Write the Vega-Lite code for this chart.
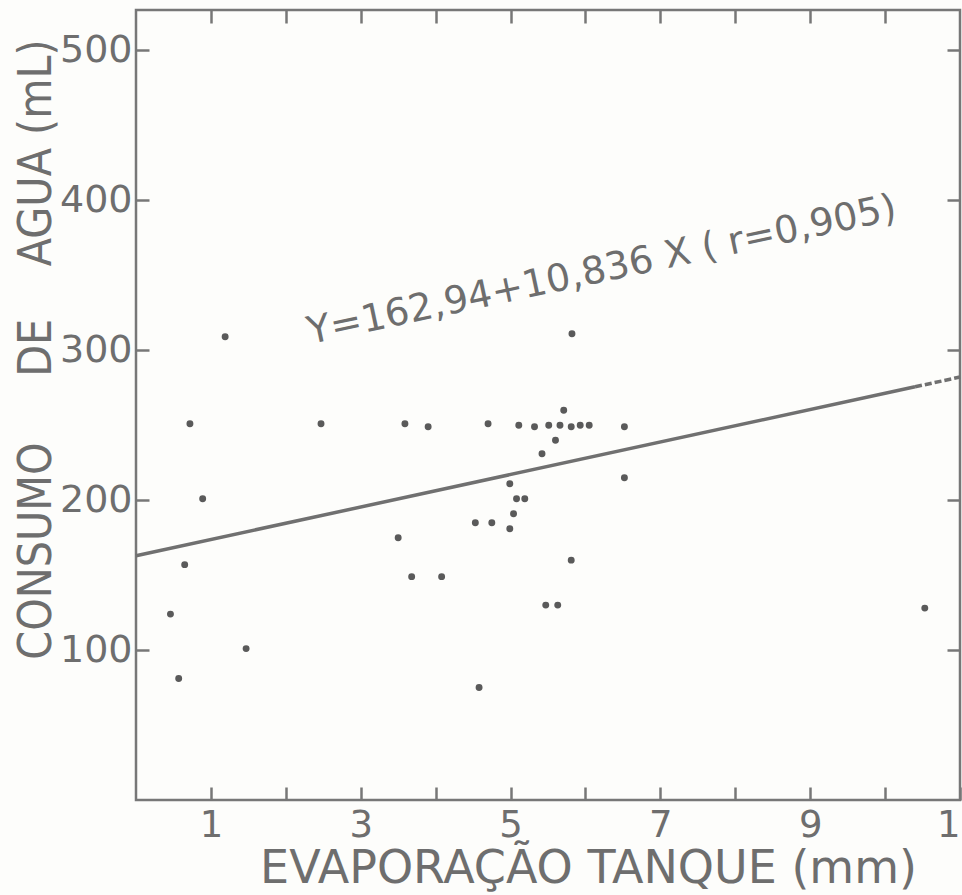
{
  "$schema": "https://vega.github.io/schema/vega-lite/v6.json",
  "width": 824,
  "height": 790,
  "autosize": {"type": "none"},
  "padding": {"left": 136, "top": 10, "right": 2, "bottom": 95},
  "background": "#fdfdfb",
  "config": {
    "view": {"stroke": "#777777", "strokeWidth": 2.5},
    "axis": {
      "grid": false,
      "domain": false,
      "tickColor": "#777777",
      "tickWidth": 2.5,
      "labelColor": "#6e6e6e",
      "titleColor": "#6e6e6e",
      "labelFont": "DejaVu Sans",
      "titleFont": "DejaVu Sans",
      "labelFontWeight": "normal",
      "titleFontWeight": "normal"
    }
  },
  "resolve": {"axis": {"x": "independent", "y": "independent"}},
  "layer": [
    {
      "data": {"values": [
        {"evap": 1.19, "consumo": 309},
        {"evap": 0.72, "consumo": 251},
        {"evap": 2.47, "consumo": 251},
        {"evap": 3.59, "consumo": 251},
        {"evap": 3.90, "consumo": 249},
        {"evap": 4.70, "consumo": 251},
        {"evap": 5.11, "consumo": 250},
        {"evap": 5.32, "consumo": 249},
        {"evap": 5.51, "consumo": 250},
        {"evap": 5.66, "consumo": 250},
        {"evap": 5.81, "consumo": 249},
        {"evap": 5.93, "consumo": 250},
        {"evap": 6.05, "consumo": 250},
        {"evap": 6.52, "consumo": 249},
        {"evap": 5.71, "consumo": 260},
        {"evap": 5.82, "consumo": 311},
        {"evap": 5.60, "consumo": 240},
        {"evap": 5.42, "consumo": 231},
        {"evap": 4.99, "consumo": 211},
        {"evap": 5.08, "consumo": 201},
        {"evap": 5.19, "consumo": 201},
        {"evap": 5.04, "consumo": 191},
        {"evap": 4.53, "consumo": 185},
        {"evap": 4.75, "consumo": 185},
        {"evap": 4.99, "consumo": 181},
        {"evap": 3.50, "consumo": 175},
        {"evap": 6.52, "consumo": 215},
        {"evap": 0.89, "consumo": 201},
        {"evap": 0.65, "consumo": 157},
        {"evap": 3.68, "consumo": 149},
        {"evap": 4.08, "consumo": 149},
        {"evap": 5.81, "consumo": 160},
        {"evap": 5.47, "consumo": 130},
        {"evap": 5.63, "consumo": 130},
        {"evap": 0.46, "consumo": 124},
        {"evap": 1.47, "consumo": 101},
        {"evap": 0.57, "consumo": 81},
        {"evap": 4.58, "consumo": 75},
        {"evap": 10.53, "consumo": 128}
      ]},
      "mark": {"type": "circle", "size": 48, "color": "#5a5a5a", "opacity": 1},
      "encoding": {
        "x": {
          "field": "evap", "type": "quantitative",
          "scale": {"domain": [0, 11], "nice": false, "zero": false},
          "axis": {
            "orient": "bottom",
            "offset": -13,
            "values": [1, 2, 3, 4, 5, 6, 7, 8, 9, 10, 11],
            "tickSize": 13,
            "labelPadding": 7,
            "labelExpr": "datum.value % 2 == 1 ? datum.label : ''",
            "labelFontSize": 37,
            "labelFlush": false,
            "labelOverlap": false,
            "title": "EVAPORAÇÃO TANQUE (mm)",
            "titleFontSize": 46,
            "titleX": 452,
            "titleY": 95,
            "titleBaseline": "alphabetic"
          }
        },
        "y": {
          "field": "consumo", "type": "quantitative",
          "scale": {"domain": [0, 527], "nice": false, "zero": false},
          "axis": {
            "orient": "left",
            "offset": -13,
            "values": [100, 200, 300, 400, 500],
            "tickSize": 13,
            "labelPadding": 4,
            "labelFontSize": 38,
            "title": "CONSUMO\u00a0\u00a0\u00a0\u00a0\u00a0DE\u00a0\u00a0\u00a0\u00a0AGUA (mL)",
            "titleFont": "DejaVu Sans Condensed, DejaVu Sans",
            "titleFontSize": 46,
            "titleX": -99,
            "titleY": 339,
            "titleBaseline": "alphabetic"
          }
        }
      }
    },
    {
      "data": {"values": [
        {"evap": 0, "consumo": 162.94},
        {"evap": 10.4, "consumo": 275.63}
      ]},
      "mark": {"type": "line", "color": "#707070", "strokeWidth": 3.5},
      "encoding": {
        "x": {"field": "evap", "type": "quantitative",
          "axis": {"orient": "top", "offset": -13, "values": [1, 2, 3, 4, 5, 6, 7, 8, 9, 10], "tickSize": 13, "labels": false, "title": null}},
        "y": {"field": "consumo", "type": "quantitative",
          "axis": {"orient": "right", "offset": -13, "values": [100, 200, 300, 400, 500], "tickSize": 13, "labels": false, "title": null}}
      }
    },
    {
      "data": {"values": [
        {"evap": 10.4, "consumo": 275.63},
        {"evap": 11, "consumo": 282.14}
      ]},
      "mark": {"type": "line", "color": "#707070", "strokeWidth": 3.5, "strokeDash": [7, 3]},
      "encoding": {
        "x": {"field": "evap", "type": "quantitative", "axis": null},
        "y": {"field": "consumo", "type": "quantitative", "axis": null}
      }
    },
    {
      "data": {"values": [
        {"evap": 6.22, "consumo": 353, "label": "Y=162,94+10,836 X ( r=0,905)"}
      ]},
      "mark": {"type": "text", "angle": -12, "fontSize": 38, "font": "DejaVu Sans", "color": "#6e6e6e", "align": "center", "baseline": "middle"},
      "encoding": {
        "x": {"field": "evap", "type": "quantitative", "axis": null},
        "y": {"field": "consumo", "type": "quantitative", "axis": null},
        "text": {"field": "label"}
      }
    }
  ]
}
